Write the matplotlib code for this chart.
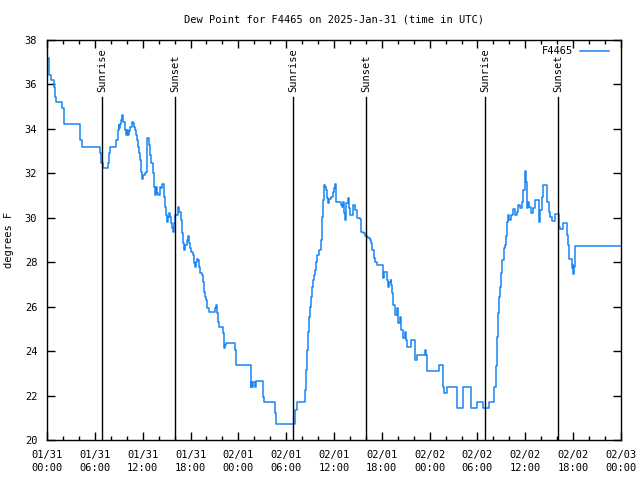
"""Dew point chart for station F4465, gnuplot-like look."""
import matplotlib
matplotlib.use("Agg")
import matplotlib.pyplot as plt
from matplotlib.ticker import MultipleLocator

# hours since 2025-01-31 00:00 UTC, value holds until next reading
hours = [
    0.17, 0.29, 0.50, 0.92, 1.00, 1.13, 1.92, 2.09, 2.17, 4.18, 4.43, 6.69,
    6.82, 6.98, 7.69, 7.82, 7.94, 8.70, 8.86, 8.99, 9.07, 9.20, 9.32, 9.45,
    9.57, 9.74, 9.87, 9.95, 10.08, 10.20, 10.33, 10.45, 10.58, 10.70, 10.83,
    10.95, 11.08, 11.20, 11.33, 11.45, 11.58, 11.70, 11.83, 11.96, 12.08,
    12.25, 12.42, 12.50, 12.59, 12.75, 12.88, 13.05, 13.30, 13.42, 13.55,
    13.67, 13.76, 13.88, 14.17, 14.34, 14.46, 14.63, 14.76, 14.89, 15.01,
    15.14, 15.26, 15.43, 15.56, 15.68, 15.81, 15.93, 16.06, 16.43, 16.60,
    16.77, 16.89, 17.10, 17.23, 17.35, 17.52, 17.69, 17.81, 17.94, 18.06,
    18.31, 18.44, 18.52, 18.65, 18.77, 18.98, 19.11, 19.23, 19.44, 19.57,
    19.65, 19.86, 19.99, 20.11, 20.28, 21.07, 21.20, 21.32, 21.45, 21.58,
    22.08, 22.16, 22.24, 22.33, 22.45, 23.62, 23.71, 25.55, 25.63, 25.76,
    25.88, 26.05, 26.22, 27.14, 27.26, 28.64, 28.73, 31.15, 31.32, 32.36,
    32.49, 32.61, 32.74, 32.86, 32.99, 33.12, 33.24, 33.37, 33.49, 33.62,
    33.74, 33.91, 34.08, 34.33, 34.50, 34.62, 34.75, 34.91, 35.04, 35.16,
    35.29, 35.42, 35.62, 35.75, 35.92, 36.00, 36.08, 36.25, 36.84, 36.96,
    37.17, 37.30, 37.42, 37.55, 37.72, 37.84, 37.97, 38.43, 38.63, 38.89,
    39.26, 39.43, 39.68, 39.89, 40.10, 40.31, 40.52, 40.68, 40.81, 41.02,
    41.19, 41.35, 42.11, 42.31, 42.61, 42.73, 42.94, 43.11, 43.19, 43.32,
    43.44, 43.65, 43.86, 44.03, 44.28, 44.45, 44.61, 44.86, 45.03, 45.20,
    45.62, 46.12, 46.37, 47.42, 47.50, 47.71, 49.21, 49.63, 49.80, 50.13,
    51.47, 52.22, 53.19, 53.90, 54.73, 55.49, 56.11, 56.28, 56.41, 56.57,
    56.70, 56.82, 56.99, 57.12, 57.28, 57.41, 57.54, 57.66, 57.79, 57.91,
    58.16, 58.41, 58.75, 58.92, 59.12, 59.37, 59.58, 59.75, 59.92, 60.00,
    60.09, 60.25, 60.38, 60.50, 60.75, 61.00, 61.26, 61.76, 61.84, 62.05,
    62.26, 62.68, 62.93, 63.10, 63.31, 63.76, 64.27, 64.35, 64.77, 65.19,
    65.35, 65.52, 65.90, 65.98, 66.02, 66.11, 66.19, 66.27, 71.88,
]
dew_f = [
    37.18, 36.43, 36.20, 35.90, 35.45, 35.23, 34.93, 34.48, 34.20, 33.50,
    33.20, 32.90, 32.48, 32.24, 32.45, 32.90, 33.20, 33.50, 33.95, 34.18,
    34.03, 34.22, 34.40, 34.61, 34.33, 33.95, 33.88, 33.73, 33.95, 33.73,
    33.92, 34.07, 34.10, 34.33, 34.25, 34.07, 33.95, 33.73, 33.50, 33.20,
    32.90, 32.60, 32.08, 31.73, 31.93, 32.00, 32.05, 32.45, 33.58, 33.28,
    32.83, 32.45, 32.00, 31.40, 31.03, 31.40, 31.10, 31.03, 31.40, 31.33,
    31.52, 30.95, 30.50, 30.13, 29.83, 30.05, 30.20, 30.05, 29.75, 29.53,
    29.38, 29.75, 30.13, 30.50, 30.28, 29.90, 29.30, 28.85, 28.55, 28.78,
    29.00, 29.18, 28.85, 28.63, 28.48, 28.33, 27.95, 27.80, 28.03, 28.13,
    28.10, 27.80, 27.50, 27.43, 27.13, 26.68, 26.45, 26.30, 25.93, 25.75,
    25.93, 26.08, 25.70, 25.33, 25.07, 24.80, 24.35, 24.13, 24.28, 24.35,
    24.05, 23.38, 22.40, 22.63, 22.37, 22.63, 22.40, 22.66, 21.95, 21.70,
    21.20, 20.70, 21.35, 21.70, 22.25, 23.15, 24.05, 24.88, 25.55, 26.00,
    26.45, 26.90, 27.20, 27.43, 27.65, 28.03, 28.33, 28.55, 29.00, 30.05,
    30.80, 31.48, 31.40, 31.25, 30.88, 30.65, 30.83, 30.92, 30.95, 31.18,
    31.33, 31.52, 30.73, 30.58, 30.50, 30.73, 30.20, 29.90, 30.65, 30.88,
    30.43, 30.13, 30.58, 30.35, 29.98, 29.93, 29.38, 29.33, 29.18, 29.12,
    29.08, 29.00, 28.85, 28.55, 28.18, 28.03, 27.88, 27.28, 27.58, 27.20,
    26.90, 27.13, 27.20, 26.98, 26.60, 26.08, 25.63, 25.93, 25.25, 25.55,
    24.95, 24.58, 24.88, 24.50, 24.20, 24.50, 23.60, 23.83, 24.05, 23.83,
    23.12, 23.38, 22.40, 22.10, 22.40, 21.43, 22.40, 21.43, 21.70, 21.43,
    21.70, 22.37, 23.33, 24.65, 25.70, 26.45, 26.90, 27.50, 28.10, 28.63,
    28.78, 29.18, 29.83, 30.13, 29.90, 30.13, 30.38, 30.13, 30.28, 30.58,
    30.43, 30.73, 31.25, 31.78, 32.12, 31.63, 30.43, 30.73, 30.50, 30.20,
    30.43, 30.80, 29.83, 30.35, 30.95, 31.48, 30.73, 30.28, 30.05, 29.86,
    30.16, 29.60, 29.50, 29.78, 29.23, 28.78, 28.15, 27.73, 27.88, 27.47,
    27.80, 28.40, 28.73, 28.73,
]

sun_hours = [6.90, 16.06, 30.86, 40.02, 54.94, 64.10]
sun_labels = ["Sunrise", "Sunset", "Sunrise", "Sunset", "Sunrise", "Sunset"]

tick_hours = list(range(0, 73, 6))
tick_labels = [
    "01/31\n00:00", "01/31\n06:00", "01/31\n12:00", "01/31\n18:00",
    "02/01\n00:00", "02/01\n06:00", "02/01\n12:00", "02/01\n18:00",
    "02/02\n00:00", "02/02\n06:00", "02/02\n12:00", "02/02\n18:00",
    "02/03\n00:00",
]

plt.rcParams["font.family"] = ["DejaVu Sans Mono"]
plt.rcParams["font.size"] = 7.5

fig = plt.figure(figsize=(6.4, 4.8), dpi=100)
ax = fig.add_axes([47 / 640, 40 / 480, 574 / 640, 400 / 480])

ax.plot(hours, dew_f, color="#1786f5", lw=1.1, drawstyle="steps-post", label="F4465")

for h, lab in zip(sun_hours, sun_labels):
    ax.plot([h, h], [20, 35.45], color="black", lw=1.0)
    ax.text(h, 35.66, lab, rotation=90, ha="center", va="bottom")

ax.set_xlim(0, 72)
ax.set_ylim(20, 38)
ax.set_xticks(tick_hours)
ax.set_xticklabels(tick_labels, linespacing=1.35)
ax.xaxis.set_minor_locator(MultipleLocator(2))
ax.yaxis.set_major_locator(MultipleLocator(2))
ax.tick_params(which="both", direction="in", top=True, right=True, width=1)
ax.tick_params(which="major", length=6)
ax.tick_params(which="minor", length=3)
ax.tick_params(axis="x", pad=7)
ax.tick_params(axis="y", pad=7)
for sp in ax.spines.values():
    sp.set_linewidth(1)

ax.set_ylabel("degrees F", labelpad=8)
fig.text(334 / 640, 1 - 20 / 480, "Dew Point for F4465 on 2025-Jan-31 (time in UTC)",
         ha="center", va="center")

ax.legend(loc="upper right", bbox_to_anchor=(1 - 6 / 574, 1), frameon=False,
          markerfirst=False, handlelength=2.8, borderaxespad=0.2, handletextpad=0.6)

fig.savefig("out.png", dpi=100)
